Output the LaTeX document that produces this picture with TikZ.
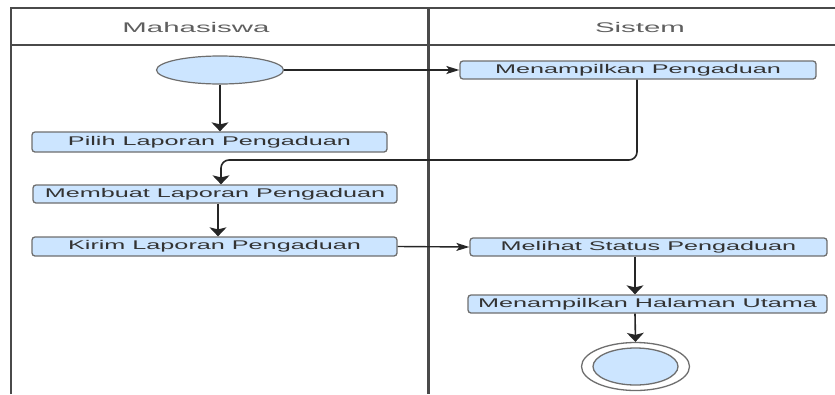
\documentclass[tikz,border=0pt]{standalone}
\usepackage{fontspec}
\setmainfont{Liberation Sans}[FakeStretch=2.0]
\newfontfamily\hdrfont{Liberation Sans}[FakeStretch=2.1]
\usetikzlibrary{shapes.geometric,arrows.meta,calc}
\definecolor{boxfill}{HTML}{CCE5FF}
\definecolor{boxline}{HTML}{6E6E6E}
\definecolor{txt}{HTML}{333333}
\definecolor{hdr}{HTML}{5F5F5F}
\definecolor{frame}{HTML}{4A4A4A}
\tikzset{
  actbox/.style={draw=boxline, line width=1.3pt, fill=boxfill, rounded corners=3pt,
    minimum height=18pt, inner sep=0pt, text=txt,
    font=\fontsize{12.6}{14}\selectfont},
  startnode/.style={ellipse, draw=boxline, line width=1.2pt, fill=boxfill,
    minimum width=127pt, minimum height=28pt, inner sep=0pt},
  varr/.style={draw=black!85, line width=1.6pt, -{Stealth[length=9pt,width=17pt,inset=2pt]}},
  harr/.style={draw=black!85, line width=1.4pt, -{Stealth[length=13pt,width=8pt,inset=3pt]}},
  lane/.style={draw=frame, line width=2pt},
  header/.style={text=hdr, font=\hdrfont\fontsize{14}{16}\selectfont}
}
\begin{document}
\begin{tikzpicture}[x=1pt,y=-1pt]
\useasboundingbox (0,0) rectangle (835,394);
% swimlane frame
\draw[lane, line width=2.6pt] (11,394) -- (11,8);
\draw[lane] (10,8) -- (835,8);
\draw[lane] (11,45) -- (835,45);
\draw[lane, line width=3pt] (428,8) -- (428,394);
\node[header] (h1) at (196,27) {Mahasiswa};
\node[header] (h2) at (640,27) {Sistem};
% nodes
\node[startnode] (start) at (220,70) {};
\node[actbox, minimum width=356pt] (mp) at (638,70) {Menampilkan Pengaduan};
\node[actbox, minimum width=355pt, minimum height=20pt] (pilih) at (209.5,142) {Pilih Laporan Pengaduan};
\node[actbox, minimum width=364pt] (buat) at (215,194) {Membuat Laporan Pengaduan};
\node[actbox, minimum width=365pt, minimum height=19pt] (kirim) at (214.5,246.5) {Kirim Laporan Pengaduan};
\node[actbox, minimum width=357pt] (lihat) at (648.5,247) {Melihat Status Pengaduan};
\node[actbox, minimum width=359pt] (mhu) at (647.5,304) {Menampilkan Halaman Utama};
\node[ellipse, draw=boxline, line width=1.3pt, fill=white, minimum width=108pt, minimum height=48pt, inner sep=0pt] (end) at (635.5,366.5) {};
\node[ellipse, draw=boxline, line width=1.3pt, fill=boxfill, minimum width=85pt, minimum height=37pt, inner sep=0pt] (endin) at (635.5,366.5) {};
% connectors
\draw[harr] (start.east) -- (mp.west);
\draw[varr] (start.south) -- (start.south |- pilih.north);
\coordinate (bend) at (221,160);
\draw[varr, rounded corners=8pt] (mp.south -| 637,0) |- (bend) -- (bend |- buat.north);
\draw[varr] (buat.south -| 218,0) -- (kirim.north -| 218,0);
\draw[harr] (kirim.east) -- (lihat.west);
\draw[varr] (lihat.south -| 635,0) -- (mhu.north -| 635,0);
\draw[varr] (mhu.south -| 635,0) -- (end.north);
\end{tikzpicture}
\end{document}
